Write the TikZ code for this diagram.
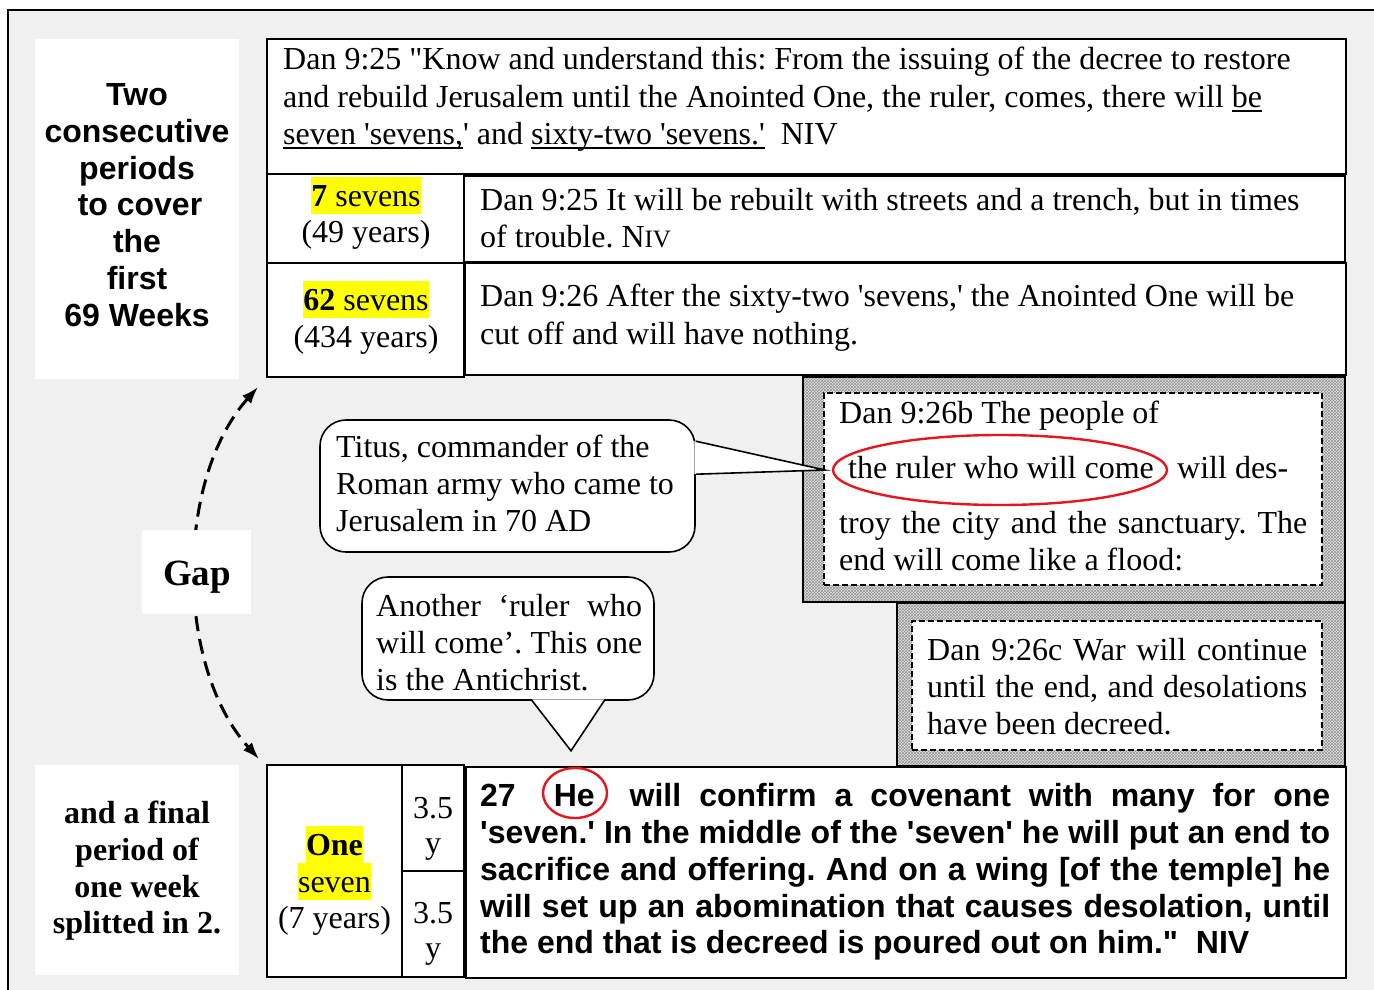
\documentclass[tikz,border=0pt]{standalone}
\usepackage{fontspec}
\setmainfont{Liberation Serif}[Ligatures=TeXOff]
\setsansfont{Liberation Sans}[Ligatures=TeXOff]
\usetikzlibrary{patterns,arrows.meta,calc,shapes.geometric}
\definecolor{bg}{HTML}{F0F0F0}
\definecolor{hl}{HTML}{FFFF00}
\definecolor{ring}{HTML}{E5161D}
\frenchspacing
\newcommand\ulx[1]{\setbox0\hbox{#1}\rlap{\rule[-5pt]{\wd0}{1.8pt}}\box0}
\newcommand\rnode[6]{\node[#2,minimum width={#5-#3},minimum height={#6-#4}] (#1) at ({(#3+#5)/2},{(#4+#6)/2}) {};}
\tikzset{
 cell/.style={draw=black,line width=1.8pt,fill=white,inner sep=0pt},
 blank/.style={fill=white,inner sep=0pt},
 hatched/.style={draw=black,line width=1.6pt,inner sep=0pt,preaction={fill=gray!22},pattern=crosshatch,pattern color=gray!85},
 dashbox/.style={draw=black,line width=1.5pt,fill=white,dash pattern=on 6pt off 3pt,inner sep=0pt},
 bubble/.style={draw=black,line width=1.6pt,fill=white,rounded corners=26pt,inner sep=0pt},
 ser/.style={inner sep=0pt,font=\fontsize{32pt}{37pt}\selectfont},
 serw/.style={ser,anchor=base west},
 serc/.style={ser,anchor=base},
 serbc/.style={ser,anchor=base,font=\bfseries\fontsize{32pt}{37pt}\selectfont},
 sanb/.style={inner sep=0pt,font=\sffamily\bfseries\fontsize{32pt}{37pt}\selectfont},
 sanbc/.style={sanb,anchor=base},
 sanbw/.style={sanb,anchor=base west},
 hilite/.style={fill=hl,text height=29pt,text depth=8pt},
 ringed/.style={ellipse,draw=ring,line width=2.4pt,inner sep=0pt},
 gaparrow/.style={line width=3pt,dash pattern=on 15pt off 8pt,{Latex[length=17pt,width=12pt]}-{Latex[length=17pt,width=12pt]}},
 pointer/.style={line width=1.6pt,line join=miter}
}
\begin{document}
\begin{tikzpicture}[x=1pt,y=-1pt]
\useasboundingbox[fill=white] (0,0) rectangle (1374,990);
\draw[line width=1.5pt,fill=bg] (8,10) rectangle (1400,1010);

% left white panels
\rnode{lefttop}{blank}{35}{39}{239}{379}
\rnode{leftbot}{blank}{35}{765}{239}{975}

% top table
\rnode{top}{cell}{267}{39}{1346}{174}
\rnode{r1L}{cell}{267}{174}{464}{263}
\rnode{r1R}{cell}{464}{176}{1345}{262}
\rnode{r2L}{cell}{267}{263}{464}{377}
\rnode{r2R}{cell}{465}{263}{1346}{375}

% hatched boxes
\rnode{p1}{hatched}{803}{377}{1345}{602}
\rnode{p1in}{dashbox}{824}{393}{1322}{585}
\rnode{p2}{hatched}{897}{603}{1345}{766}
\rnode{p2in}{dashbox}{912}{621}{1322}{750}

% bottom table
\rnode{oneL}{cell}{267}{765}{402}{977}
\rnode{halfA}{cell}{402}{765}{464}{871}
\rnode{halfB}{cell}{402}{871}{464}{977}
\rnode{v27}{cell}{466}{767}{1346}{978}

% rings
\node[ringed,minimum width=334pt,minimum height=70pt] (ruler) at (1000,470) {};
\node[ringed,minimum width=64pt,minimum height=50pt] (he) at (575,793) {};

% Titus callout
\rnode{titus}{bubble}{320}{420}{695}{552}
\coordinate (tA) at ($(titus.north east)+(0,22)$);
\coordinate (tB) at ($(titus.north east)+(0,55)$);
\coordinate (tTip) at ($(ruler.west)+(-7,0)$);
\fill[white] ($(tA)+(-1.5,0)$) -- (tTip) -- ($(tB)+(-1.5,0)$) -- cycle;
\draw[pointer] (tA) -- (tTip) -- (tB);

% Antichrist callout
\rnode{another}{bubble}{362}{577}{654}{700}
\coordinate (aA) at ($(another.south west)+(171,0)$);
\coordinate (aB) at ($(another.south west)+(243,0)$);
\coordinate (aTip) at ($(he.north)+(-4,-16)$);
\fill[white] ($(aA)+(0,-1.5)$) -- (aTip) -- ($(aB)+(0,-1.5)$) -- cycle;
\draw[pointer] (aA) -- (aTip) -- (aB);

% gap arrow
\coordinate (gtop) at ($(r2L.south west)+(-8,9)$);
\coordinate (gbot) at ($(oneL.north west)+(-7,-5)$);
\draw[gaparrow] (gtop) .. controls (175,480) and (175,666) .. (gbot);
\rnode{gapbox}{blank}{142}{530}{251}{614}
\node[inner sep=0pt,anchor=base,font=\bfseries\fontsize{37pt}{40pt}\selectfont] (gaptxt) at (197,585) {Gap};

% left top text
\node[sanbc] (l1) at (137,105) {Two};
\node[sanbc] (l2) at (137,142) {consecutive};
\node[sanbc] (l3) at (137,179) {periods};
\node[sanbc] (l4) at (140,215) {to cover};
\node[sanbc] (l5) at (137,252) {the};
\node[sanbc] (l6) at (137,289) {first};
\node[sanbc] (l7) at (137,326) {69 Weeks};

% left bottom text
\node[serbc] (b1) at (137,823) {and a final};
\node[serbc] (b2) at (137,860) {period of};
\node[serbc] (b3) at (137,897) {one week};
\node[serbc] (b4) at (137,933) {splitted in 2.};

% top box text
\node[serw] (t1) at (283,70) {Dan 9:25 "Know and understand this: From the issuing of the decree to restore};
\node[serw] (t2) at (283,107) {and rebuild Jerusalem until the Anointed One, the ruler, comes, there will \ulx{be}};
\node[serw] (t3) at (283,144) {\ulx{seven 'sevens,}' and \ulx{sixty-two 'sevens.'}\ \ NIV};

% row 1
\node[serc,hilite] (s7) at (366,206) {{\bfseries 7} sevens};
\node[serc] (y49) at (366,242) {(49 years)};
\node[serw] (r1a) at (480,210) {Dan 9:25 It will be rebuilt with streets and a trench, but in times};
\node[serw] (r1b) at (480,247) {of trouble. N{\fontsize{25pt}{37pt}\selectfont IV}};

% row 2
\node[serc,hilite] (s62) at (366,310) {{\bfseries 62} sevens};
\node[serc] (y434) at (366,347) {(434 years)};
\node[serw] (r2a) at (480,306) {Dan 9:26 After the sixty-two 'sevens,' the Anointed One will be};
\node[serw] (r2b) at (480,344) {cut off and will have nothing.};

% hatched box 1 text
\node[serw] (p1a) at (839,423) {Dan 9:26b The people of};
\node[serw] (p1b) at (848,478) {the ruler who will come};
\node[serw] (p1c) at (1177,478) {will des-};
\node[serw] (p1d) at (839,533) {\makebox[468pt][s]{troy the city and the sanctuary. The}};
\node[serw] (p1e) at (839,570) {end will come like a flood:};

% hatched box 2 text
\node[serw] (p2a) at (927,660) {\makebox[380pt][s]{Dan 9:26c War will continue}};
\node[serw] (p2b) at (927,697) {\makebox[380pt][s]{until the end, and desolations}};
\node[serw] (p2c) at (927,734) {have been decreed.};

% callout texts
\node[serw] (ti1) at (336,457) {Titus, commander of the};
\node[serw] (ti2) at (336,494) {Roman army who came to};
\node[serw] (ti3) at (336,531) {Jerusalem in 70 AD};
\node[serw] (an1) at (376,616) {\makebox[266pt][s]{Another ‘ruler who}};
\node[serw] (an2) at (376,653) {\makebox[266pt][s]{will come’. This one}};
\node[serw] (an3) at (376,690) {is the Antichrist.};

% one seven cell
\node[serc,hilite,font=\bfseries\fontsize{32pt}{37pt}\selectfont] (one) at (334.5,855) {One};
\node[serc,hilite] (sev) at (334.5,892) {seven};
\node[serc] (y7) at (334.5,928) {(7 years)};
\node[serc] (h1) at (433,818) {3.5};
\node[serc] (h1y) at (433,853) {y};
\node[serc] (h2) at (433,923) {3.5};
\node[serc] (h2y) at (433,958) {y};

% verse 27
\node[sanbw] (v1) at (480,806) {\makebox[850pt][s]{27\hspace{38pt}He\hspace{35pt}will confirm a covenant with many for one}};
\node[sanbw] (v2) at (480,843) {\makebox[850pt][s]{'seven.' In the middle of the 'seven' he will put an end to}};
\node[sanbw] (v3) at (480,880) {\makebox[850pt][s]{sacrifice and offering. And on a wing [of the temple] he}};
\node[sanbw] (v4) at (480,917) {\makebox[850pt][s]{will set up an abomination that causes desolation, until}};
\node[sanbw] (v5) at (480,953) {the end that is decreed is poured out on him."\ \ NIV};
\end{tikzpicture}
\end{document}
